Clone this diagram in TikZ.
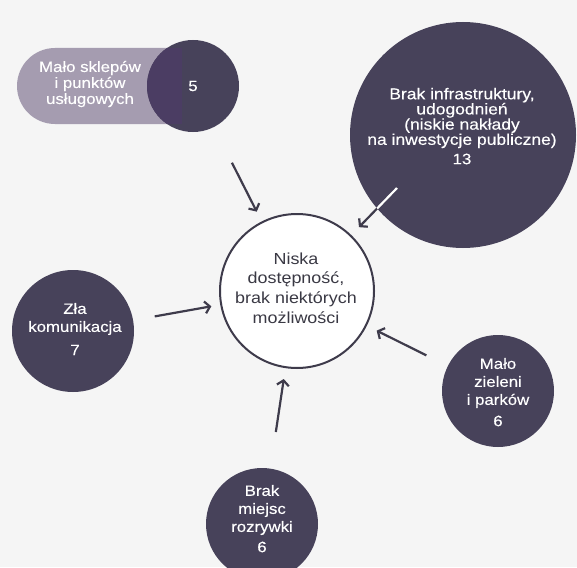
\documentclass[tikz,border=0pt]{standalone}
\usepackage{fontspec}
\setmainfont{Liberation Sans}
\newfontfamily\labfont[FakeStretch=1.12,FakeBold=0.3]{Liberation Sans}
\newfontfamily\cenfont[FakeStretch=1.12]{Liberation Sans}
\usetikzlibrary{arrows.meta}
\definecolor{bg}{HTML}{F5F5F5}
\definecolor{dark}{HTML}{47425A}
\definecolor{pillc}{HTML}{A59CB0}
\definecolor{mix}{HTML}{4B3D63}
\definecolor{ink}{HTML}{3E3B4B}
\definecolor{txt}{HTML}{3A3944}
\begin{document}
\begin{tikzpicture}[x=1pt,y=-1pt,
  bubble/.style={circle,fill=dark,draw=none,inner sep=0pt,outer sep=0pt,minimum size=#1},
  wlab/.style={text=white,align=center,inner sep=0pt,font=\labfont\fontsize{15}{#1}\selectfont},
  wlab/.default=17.5,
  arr/.style={draw=ink,line width=2.2pt,-{Straight Barb[length=5pt,width=12pt]}},
]
\fill[bg] (0,0) rectangle (577,567);
\useasboundingbox (0,0) rectangle (577,567);

% dark bubbles
\node[bubble=226pt] (infra) at (463,135) {};
\node[bubble=122pt] (zla) at (73,331) {};
\node[bubble=112pt] (ziel) at (498,391) {};
\node[bubble=112pt] (rozr) at (262,524) {};

% pill + small circle
\fill[pillc] (55,48) -- (182,48) -- (182,124) -- (55,124) arc[start angle=90,end angle=270,radius=38] -- cycle;
\node[bubble=92pt] (sklep) at (193,86) {};
\begin{scope}
  \clip (193,86) circle[radius=46];
  \fill[mix] (17,48) rectangle (182,124);
\end{scope}

% central circle
\node[circle,draw=ink,line width=2pt,fill=white,minimum size=154pt,inner sep=0pt,outer sep=0pt] (cen) at (297,291) {};

% texts
\node[wlab=16] (tsklep) at (90,84) {Mało sklepów\\i punktów\\usługowych};
\node[wlab] (nsklep) at (193,86) {5};
\node[wlab=15.2,font=\labfont\fontsize{15.6}{15.2}\selectfont] (tinfra) at (462,118) {Brak infrastruktury,\\udogodnień\\(niskie nakłady\\na inwestycje publiczne)};
\node[wlab] (ninfra) at (462,159) {13};
\node[text=txt,align=center,inner sep=0pt,font=\cenfont\fontsize{16}{19.7}\selectfont] (tcen) at (296,288) {Niska\\dostępność,\\brak niektórych\\możliwości};
\node[wlab=18] (tzla) at (75,319) {Zła\\komunikacja};
\node[wlab] (nzla) at (75,350) {7};
\node[wlab=18] (tziel) at (498,383) {Mało\\zieleni\\i parków};
\node[wlab] (nziel) at (498,421) {6};
\node[wlab=18] (trozr) at (262,510) {Brak\\miejsc\\rozrywki};
\node[wlab] (nrozr) at (262,547) {6};

% arrows
\draw[arr,shorten <=40pt,shorten >=12pt] (sklep) -- (cen);
\draw[arr,shorten <=22pt,shorten >=10pt] (zla) -- (cen);
\draw[arr,shorten <=24pt,shorten >=12pt] (ziel) -- (cen);
\draw[arr,shorten <=37pt,shorten >=12pt] (rozr) -- (cen);
\coordinate (infratail) at (397,188);
\draw[arr,shorten >=12pt] (infratail) -- (cen);
\begin{scope}
  \clip (infra.center) circle[radius=113];
  \draw[white,line width=2.2pt] (infratail) -- (cen);
\end{scope}
\end{tikzpicture}
\end{document}
